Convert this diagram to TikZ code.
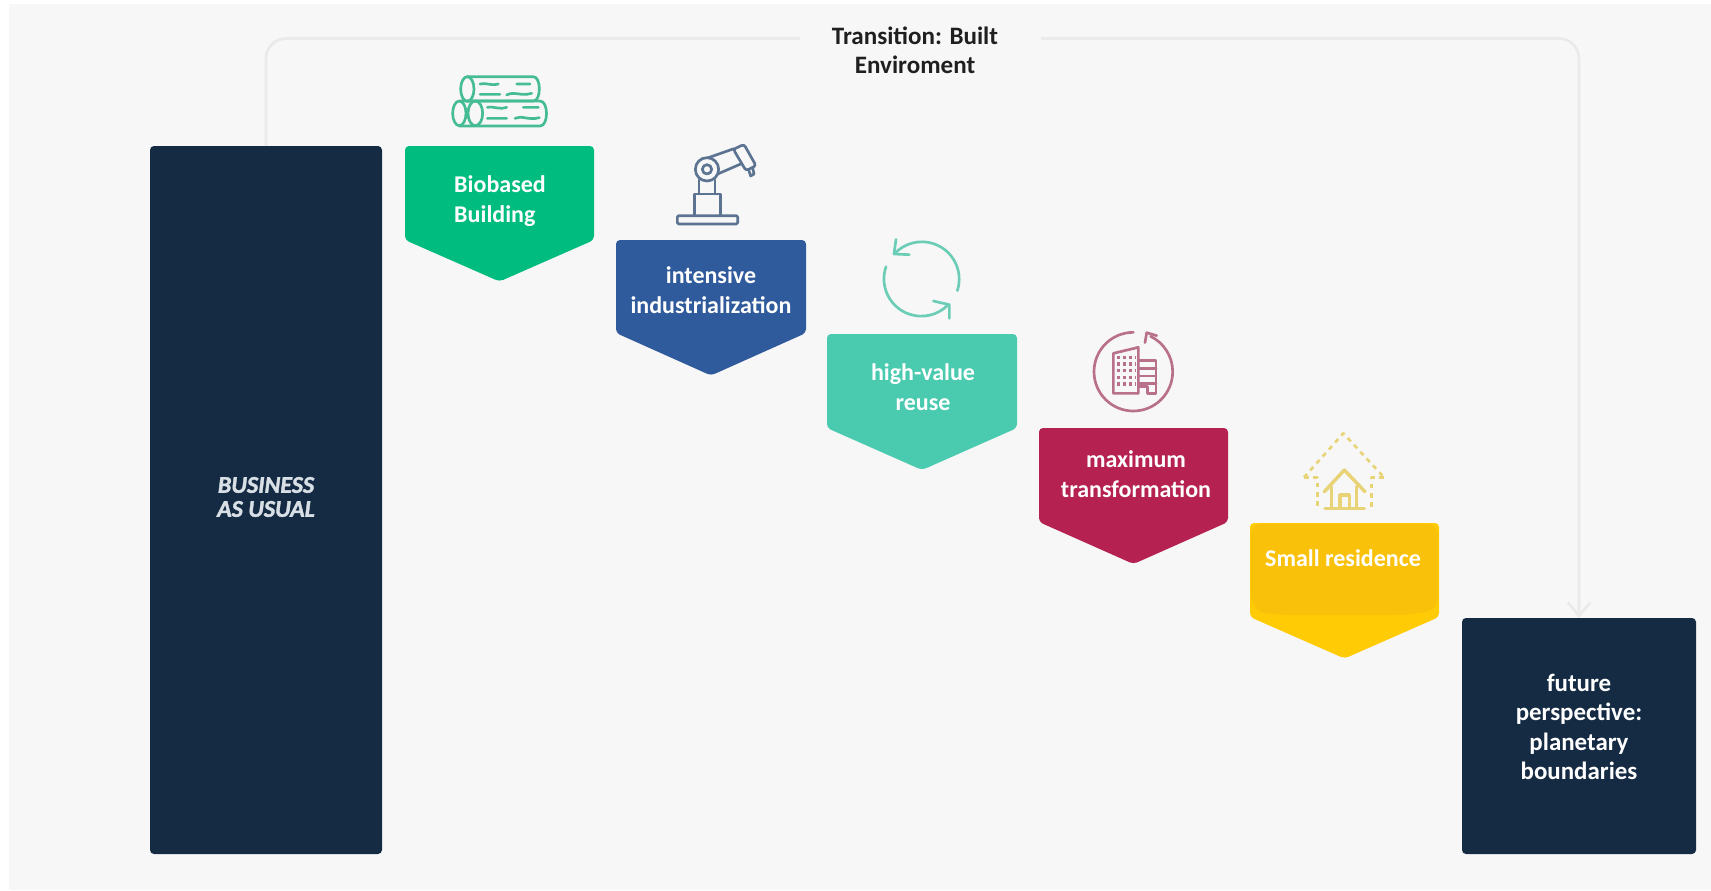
\documentclass[tikz,border=0pt]{standalone}
\usepackage{fontspec}
\setmainfont{Carlito}
\usetikzlibrary{arrows.meta}
\definecolor{pagebg}{HTML}{F7F7F7}
\definecolor{railc}{HTML}{EAEAEA}
\definecolor{navy}{HTML}{152B43}
\definecolor{cgreen}{HTML}{00BC7E}
\definecolor{cblue}{HTML}{2F5A9B}
\definecolor{cteal}{HTML}{4ACBB0}
\definecolor{ccrim}{HTML}{B52150}
\definecolor{cyell}{HTML}{FFCB05}
\definecolor{cyin}{HTML}{F9C10A}
\definecolor{icgreen}{HTML}{45BC93}
\definecolor{icblue}{HTML}{5C7391}
\definecolor{icteal}{HTML}{6CCDB6}
\definecolor{iccrim}{HTML}{B9708A}
\definecolor{icyell}{HTML}{E9D377}
\definecolor{baut}{HTML}{D8E0E6}
\tikzset{
  navybox/.style={fill=navy,draw=none,rounded corners=3pt,inner sep=0pt},
  steptext/.style={text=white,font=\fontsize{18}{22}\selectfont\bfseries,align=center,inner sep=0pt},
  pentagon/.style={rounded corners=3pt,draw=none},
  rail/.style={draw=railc,line width=2pt,rounded corners=15pt},
  icon/.style={line width=2pt,line cap=round,line join=round},
  zoomed/.style={x=0.25pt,y=-0.25pt},
}
\begin{document}
\begin{tikzpicture}[x=0.75pt,y=-0.75pt]
\useasboundingbox (0,0) rectangle (1711,890);
\fill[white] (0,0) rectangle (1711,890);
\fill[pagebg] (9,4) rectangle (1711,890);

\node[navybox,minimum width=174pt,minimum height=531pt] (bau) at (266,500) {};
\node[navybox,minimum width=175.5pt,minimum height=177pt] (future) at (1579,736) {};
\coordinate (railtop) at (915,38.5);
\draw[rail,-{Straight Barb[length=10pt,width=17pt,line width=2pt]}] (bau.north) |- (railtop) -| (future.north);

\node[fill=pagebg,minimum width=181pt,minimum height=58pt,inner sep=0pt] (titlegap) at (920.5,50) {};
\node[text=black!88,font=\fontsize{18.8}{22}\selectfont\bfseries,align=center,inner sep=0pt] (title) at (915,50) {Transition: Built\\Enviroment};

\node[text=baut,font=\fontsize{18}{18}\selectfont\bfseries\itshape\addfontfeature{FakeBold=1.6},align=center,inner sep=0pt] (bautext) at (266,497) {BUSINESS\\AS USUAL};
\node[steptext,font=\fontsize{18.7}{22}\selectfont\bfseries] (futuretext) at (1579,727) {future\\perspective:\\planetary\\boundaries};

% pentagons
\fill[cgreen,pentagon] (405,146) -- (594,146) -- (594,240) -- (499.5,281.5) -- (405,240) -- cycle;
\node[steptext,align=left] (s1) at (500,201) {Biobased\\Building};
\fill[cblue,pentagon] (616,240) -- (806,240) -- (806,333) -- (711,375.5) -- (616,333) -- cycle;
\node[steptext] (s2) at (711,290) {intensive\\industrialization};
\fill[cteal,pentagon] (827,334) -- (1017,334) -- (1017,428) -- (922,470) -- (827,428) -- cycle;
\node[steptext] (s3) at (923,387) {high-value\\reuse};
\fill[ccrim,pentagon] (1039,428) -- (1228,428) -- (1228,522) -- (1133.5,564) -- (1039,522) -- cycle;
\node[steptext] (s4) at (1136,474) {maximum\\transformation};
\fill[cyell,pentagon] (1250,523) -- (1439,523) -- (1439,617) -- (1344.5,658.5) -- (1250,617) -- cycle;
\fill[cyin,rounded corners=8pt] (1251,524) -- (1438,524) -- (1438,608) .. controls (1420,614) and (1400,615) .. (1380,615) -- (1300,615) .. controls (1280,615) and (1262,613) .. (1251,606) -- cycle;
\node[steptext] (s5) at (1343,558) {Small residence};

% logs
\begin{scope}[shift={(400,50)},zoomed,icon,draw=icgreen]
  \draw (202,80) -- (400,80) .. controls (424,80) and (424,153) .. (400,153) -- (202,153);
  \draw (202,117) ellipse [x radius=20,y radius=37];
  \draw (178,153) -- (420,153) .. controls (446,153) and (446,228) .. (420,228) -- (178,228);
  \draw (178,190) ellipse [x radius=20,y radius=37];
  \draw (226,190) ellipse [x radius=22,y radius=37];
  \draw (240,102) .. controls (265,98) and (270,108) .. (295,102) (350,102) -- (390,102);
  \draw (240,133) -- (300,133) (320,135) .. controls (345,122) and (360,140) .. (395,130);
  \draw (262,172) .. controls (285,168) and (295,180) .. (320,172) (370,172) -- (415,172);
  \draw (262,205) -- (320,205) (345,205) .. controls (365,195) and (385,212) .. (418,203);
\end{scope}

% robot
\begin{scope}[shift={(400,50)},zoomed,icon,draw=icblue]
  \draw[rounded corners=1pt] (832,497) rectangle (1013,522);
  \draw (884,497) -- (884,432) -- (962,432) -- (962,497);
  \draw (897,432) -- (897,390) (945,432) -- (945,390);
  \draw (921,358) circle [radius=35];
  \draw (921,358) circle [radius=14];
  \draw (925,323) -- (1002,296) (953,372) -- (1022,342);
  \draw[rounded corners=2pt] (1000,298) -- (1032,283) -- (1068,347) -- (1038,362) -- cycle;
  \draw (1046,360) -- (1052,378) -- (1062,372) -- (1058,354);
\end{scope}

% cycle
\begin{scope}[shift={(820,220)},zoomed,icon,draw=icteal]
  \draw (412,212) arc [start angle=18,end angle=-137,radius=112];
  \draw (228,58) -- (222,102) -- (268,104);
  \draw (198,140) arc [start angle=199,end angle=45,radius=112];
  \draw (340,243) -- (388,254) -- (388,295);
\end{scope}

% buildings
\begin{scope}[shift={(820,220)},zoomed,icon,draw=iccrim]
  \draw (940,337) arc [start angle=-90,end angle=-424,radius=118];
  \draw (975,368) -- (980,338) -- (1010,347);
  \draw (880,520) -- (880,400) -- (955,382) -- (955,520) -- cycle;
  \draw (955,422) -- (1008,422) -- (1008,520) -- (982,520) -- (982,500) -- (958,500);
  \draw (955,445) -- (1008,445) (955,468) -- (1008,468) (955,490) -- (1008,490);
  \foreach \wy in {412,432,452,472,492}
    \draw[dash pattern=on 2.5pt off 2pt,line cap=butt,line width=2.5pt] (890,\wy) -- (945,\wy);
\end{scope}

% house
\begin{scope}[shift={(1230,420)},zoomed,icon,draw=icyell]
  \draw[dash pattern=on 3.5pt off 3.5pt,line cap=butt] (222,172) -- (340,40) -- (462,172);
  \draw[dash pattern=on 3.5pt off 3.5pt,line cap=butt] (222,172) -- (262,172) -- (262,265);
  \draw[dash pattern=on 3.5pt off 3.5pt,line cap=butt] (462,172) -- (425,172) -- (425,265);
  \begin{scope}[line width=2.6pt]
  \draw (283,215) -- (343,150) -- (405,215);
  \draw (305,200) -- (305,265) (380,200) -- (380,265);
  \draw (285,265) -- (403,265);
  \draw (330,262) -- (330,225) -- (358,225) -- (358,262);
  \end{scope}
\end{scope}
\end{tikzpicture}
\end{document}
